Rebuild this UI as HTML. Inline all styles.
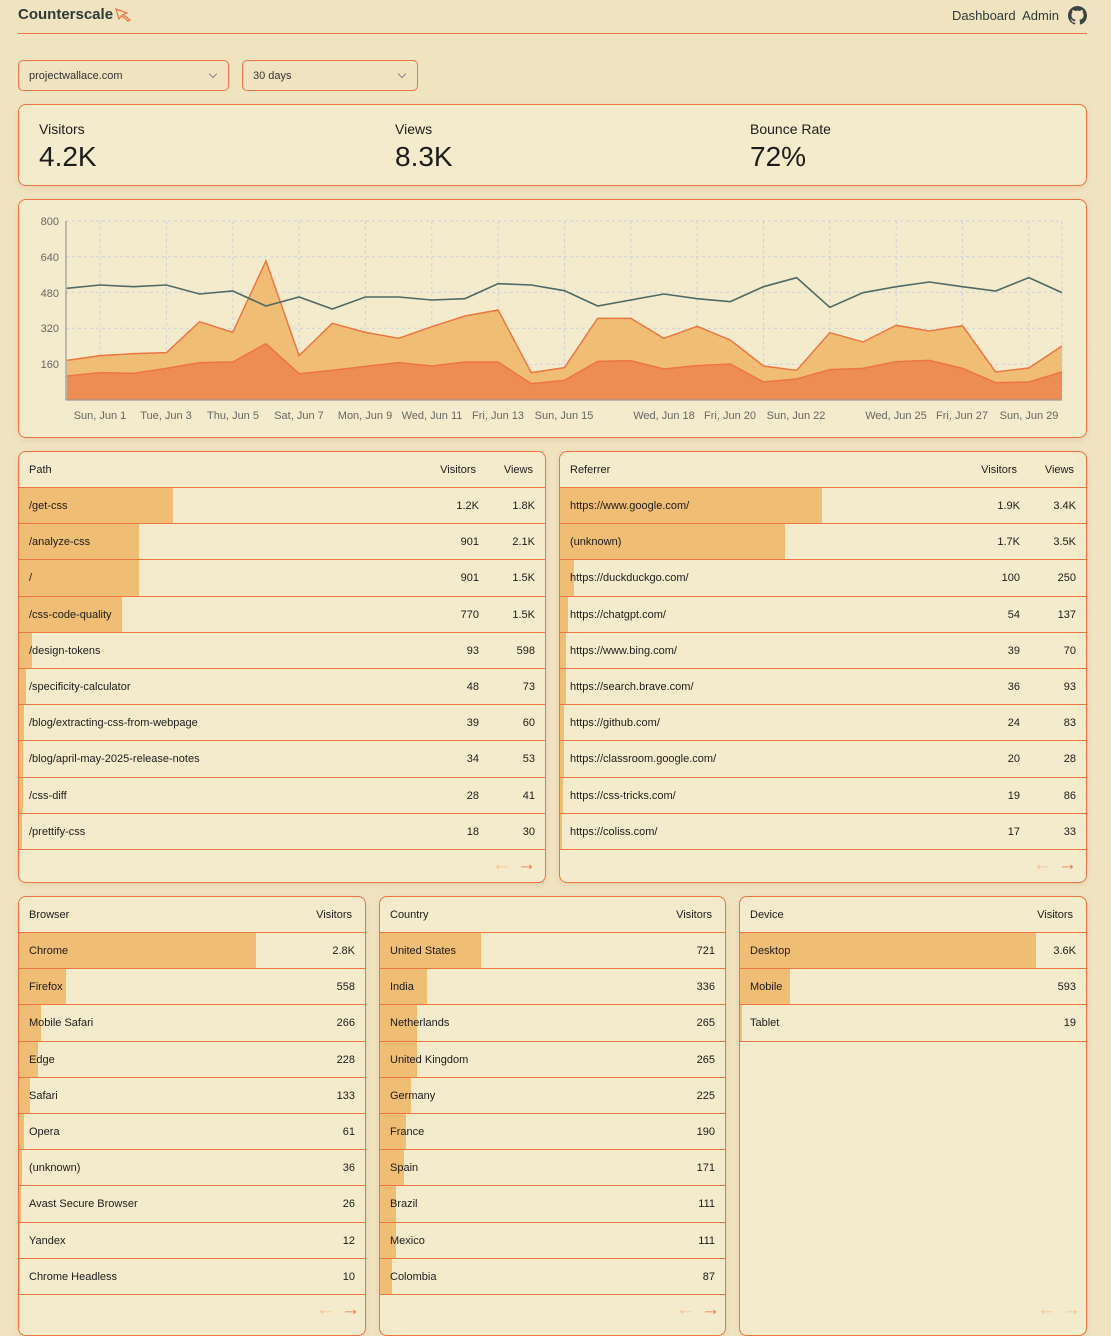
<!DOCTYPE html>
<html><head><meta charset="utf-8"><style>
*{box-sizing:border-box;margin:0;padding:0}
body{width:1111px;height:1325px;overflow:hidden;background:#f0e3c0;font-family:"Liberation Sans",Arial,sans-serif;color:#1c1c1c;position:relative}
.abs{position:absolute}
.card{position:absolute;background:#f4ebcc;border:1px solid #ed7542;border-radius:8px;box-shadow:0 2px 6px rgba(150,110,50,.15);overflow:hidden}
.sel{position:absolute;border:1px solid #ed7542;border-radius:5px;font-size:11px;color:#333;padding-left:10px;line-height:31px;top:60px;height:31px}
.sel:after{content:"";position:absolute;right:12px;top:10px;width:5px;height:5px;border-right:1px solid #888;border-bottom:1px solid #888;transform:rotate(45deg)}
.hd{position:absolute;left:0;right:0;top:0;height:36px;border-bottom:1px solid #ed7542;font-size:11px;line-height:36px}
.row{position:absolute;left:0;right:0;height:36.2px;border-bottom:1px solid #ed7542;font-size:11px;line-height:36px}
.bar{position:absolute;left:0;top:0;bottom:0;background:#f0bd74}
.t{position:absolute;left:10px}
.n{position:absolute;text-align:right}
.arr{position:absolute;font-size:19px;line-height:19px}
</style></head><body>
<div class="abs" style="left:18px;top:6px;font-size:15px;font-weight:bold;color:#2d3a3a">Counterscale</div>
<svg class="abs" style="left:115px;top:8px" width="20" height="14" viewBox="0 0 20 14"><path d="M1 1 L12 5 L8 6.5 L15 12 L13 13 L6.5 7.5 L4 11 Z" fill="none" stroke="#ed7542" stroke-width="1.2"/></svg>
<div class="abs" style="left:952px;top:8px;font-size:13px;color:#2d3a3a">Dashboard&nbsp; Admin</div>
<svg class="abs" style="left:1068px;top:6px" width="19" height="19" viewBox="0 0 16 16"><path fill="#3a4444" d="M8 0C3.580 0 0 3.58 0 8c0 3.54 2.29 6.53 5.47 7.59.4.07.55-.17.55-.38v-1.33c-2.23.48-2.7-1.070-2.7-1.07-.36-.92-.89-1.17-.89-1.17-.73-.5.06-.49.06-.49.8.06 1.23.83 1.23.83.71 1.22 1.870.87 2.33.66.07-.52.28-.87.51-1.07-1.78-.2-3.64-.89-3.64-3.95 0-.87.31-1.59.82-2.15-.08-.2-.36-1.02.08-2.12 0 0 .67-.21 2.2.82a7.6 7.6 0 0 1 4 0c1.53-1.04 2.2-.82 2.2-.82.44 1.1.16 1.92.08 2.12.51.56.82 1.27.82 2.15 0 3.07-1.87 3.75-3.65 3.95.29.25.54.73.54 1.48v2.2c0 .21.15.46.55.38A8.01 8.01 0 0 0 16 8c0-4.42-3.58-8-8-8z"/></svg>
<div class="abs" style="left:18px;top:33px;width:1069px;height:1px;background:#ed7542"></div>
<div class="sel" style="left:18px;width:211px">projectwallace.com</div>
<div class="sel" style="left:242px;width:176px">30 days</div>

<div class="card" style="left:18px;top:104px;width:1069px;height:82px">
<div class="abs" style="left:20px;top:16px;font-size:14px">Visitors</div><div class="abs" style="left:20px;top:36px;font-size:28px">4.2K</div>
<div class="abs" style="left:376px;top:16px;font-size:14px">Views</div><div class="abs" style="left:376px;top:36px;font-size:28px">8.3K</div>
<div class="abs" style="left:731px;top:16px;font-size:14px">Bounce Rate</div><div class="abs" style="left:731px;top:36px;font-size:28px">72%</div>
</div>
<div class="card" style="left:18px;top:199px;width:1069px;height:239px"></div>
<svg class="abs" style="left:0;top:0" width="1111" height="450">
<g stroke="#cfcfd8" stroke-dasharray="3,3" stroke-width="1">
<line x1="66" x2="1062" y1="221" y2="221"/><line x1="66" x2="1062" y1="256.7" y2="256.7"/><line x1="66" x2="1062" y1="292.3" y2="292.3"/><line x1="66" x2="1062" y1="328.3" y2="328.3"/><line x1="66" x2="1062" y1="364.3" y2="364.3"/>
<line x1="100.1" x2="100.1" y1="221" y2="400"/><line x1="166.4" x2="166.4" y1="221" y2="400"/><line x1="232.8" x2="232.8" y1="221" y2="400"/><line x1="299.1" x2="299.1" y1="221" y2="400"/><line x1="365.4" x2="365.4" y1="221" y2="400"/><line x1="431.8" x2="431.8" y1="221" y2="400"/><line x1="498.1" x2="498.1" y1="221" y2="400"/><line x1="564.5" x2="564.5" y1="221" y2="400"/><line x1="630.8" x2="630.8" y1="221" y2="400"/><line x1="697.1" x2="697.1" y1="221" y2="400"/><line x1="763.5" x2="763.5" y1="221" y2="400"/><line x1="829.8" x2="829.8" y1="221" y2="400"/><line x1="896.2" x2="896.2" y1="221" y2="400"/><line x1="962.5" x2="962.5" y1="221" y2="400"/><line x1="1028.8" x2="1028.8" y1="221" y2="400"/><line x1="1062" x2="1062" y1="221" y2="400"/>
</g>
<g transform="translate(66.9,200) scale(33.17,0.33333)">
<polygon fill="#f0bd74" points="0,600 0,481 1,467 2,461 3,458 4,365 5,397 6,183 7,467 8,370 9,397 10,415 11,380 12,348 13,330 14,518 15,503 16,355 17,355 18,415 19,379 20,420 21,498 22,511 23,398 24,426 25,376 26,393 27,377 28,516 29,504 30,438 30,600"/>
<polyline fill="none" stroke="#ed7542" stroke-width="1.5" vector-effect="non-scaling-stroke" points="0,481 1,467 2,461 3,458 4,365 5,397 6,183 7,467 8,370 9,397 10,415 11,380 12,348 13,330 14,518 15,503 16,355 17,355 18,415 19,379 20,420 21,498 22,511 23,398 24,426 25,376 26,393 27,377 28,516 29,504 30,438"/>
<polygon fill="#ee8d53" points="0,600 0,528 1,518 2,520 3,505 4,488 5,486 6,431 7,521 8,511 9,499 10,488 11,498 12,486 13,486 14,551 15,541 16,484 17,482 18,507 19,497 20,492 21,546 22,537 23,509 24,505 25,485 26,481 27,505 28,548 29,546 30,516 30,600"/>
<polyline fill="none" stroke="#ed7542" stroke-width="1.5" vector-effect="non-scaling-stroke" points="0,528 1,518 2,520 3,505 4,488 5,486 6,431 7,521 8,511 9,499 10,488 11,498 12,486 13,486 14,551 15,541 16,484 17,482 18,507 19,497 20,492 21,546 22,537 23,509 24,505 25,485 26,481 27,505 28,548 29,546 30,516"/>
<polyline fill="none" stroke="#4d6a66" stroke-width="1.6" vector-effect="non-scaling-stroke" points="0,265 1,255 2,260 3,255 4,282 5,273 6,318 7,291 8,327 9,291 10,291 11,300 12,296 13,251 14,255 15,272 16,318 17,300 18,282 19,296 20,305 21,260 22,233 23,322 24,278 25,260 26,246 27,260 28,273 29,233 30,278"/>
</g>
<line x1="66" x2="66" y1="221" y2="400" stroke="#999" stroke-width="1.2"/>
<line x1="66" x2="1062" y1="400" y2="400" stroke="#999" stroke-width="1.2"/>
<g font-family="Liberation Sans,Arial,sans-serif" font-size="11" fill="#666" text-anchor="end">
<text x="59" y="225">800</text><text x="59" y="261">640</text><text x="59" y="297">480</text><text x="59" y="332">320</text><text x="59" y="368">160</text>
</g>
<g font-family="Liberation Sans,Arial,sans-serif" font-size="11" fill="#666" text-anchor="middle">
<text x="100" y="419">Sun, Jun 1</text><text x="166" y="419">Tue, Jun 3</text><text x="233" y="419">Thu, Jun 5</text><text x="299" y="419">Sat, Jun 7</text><text x="365" y="419">Mon, Jun 9</text><text x="432" y="419">Wed, Jun 11</text><text x="498" y="419">Fri, Jun 13</text><text x="564" y="419">Sun, Jun 15</text><text x="664" y="419">Wed, Jun 18</text><text x="730" y="419">Fri, Jun 20</text><text x="796" y="419">Sun, Jun 22</text><text x="896" y="419">Wed, Jun 25</text><text x="962" y="419">Fri, Jun 27</text><text x="1029" y="419">Sun, Jun 29</text>
</g>
</svg>

<!-- Path -->
<div class="card" style="left:18px;top:451px;width:528px;height:432px">
<div class="hd"><span class="t">Path</span><span class="n" style="right:69px">Visitors</span><span class="n" style="right:12px">Views</span></div>
<div class="row" style="top:36px"><div class="bar" style="width:154px"></div><span class="t">/get-css</span><span class="n" style="right:66px">1.2K</span><span class="n" style="right:10px">1.8K</span></div>
<div class="row" style="top:72.2px"><div class="bar" style="width:120px"></div><span class="t">/analyze-css</span><span class="n" style="right:66px">901</span><span class="n" style="right:10px">2.1K</span></div>
<div class="row" style="top:108.4px"><div class="bar" style="width:120px"></div><span class="t">/</span><span class="n" style="right:66px">901</span><span class="n" style="right:10px">1.5K</span></div>
<div class="row" style="top:144.6px"><div class="bar" style="width:103px"></div><span class="t">/css-code-quality</span><span class="n" style="right:66px">770</span><span class="n" style="right:10px">1.5K</span></div>
<div class="row" style="top:180.8px"><div class="bar" style="width:13px"></div><span class="t">/design-tokens</span><span class="n" style="right:66px">93</span><span class="n" style="right:10px">598</span></div>
<div class="row" style="top:217px"><div class="bar" style="width:7px"></div><span class="t">/specificity-calculator</span><span class="n" style="right:66px">48</span><span class="n" style="right:10px">73</span></div>
<div class="row" style="top:253.2px"><div class="bar" style="width:5px"></div><span class="t">/blog/extracting-css-from-webpage</span><span class="n" style="right:66px">39</span><span class="n" style="right:10px">60</span></div>
<div class="row" style="top:289.4px"><div class="bar" style="width:4px"></div><span class="t">/blog/april-may-2025-release-notes</span><span class="n" style="right:66px">34</span><span class="n" style="right:10px">53</span></div>
<div class="row" style="top:325.6px"><div class="bar" style="width:4px"></div><span class="t">/css-diff</span><span class="n" style="right:66px">28</span><span class="n" style="right:10px">41</span></div>
<div class="row" style="top:361.8px"><div class="bar" style="width:3px"></div><span class="t">/prettify-css</span><span class="n" style="right:66px">18</span><span class="n" style="right:10px">30</span></div>
<span class="arr" style="right:34px;top:403px;color:#f6c08a">&#8592;</span><span class="arr" style="right:9px;top:403px;color:#ed7542">&#8594;</span>
</div>

<!-- Referrer -->
<div class="card" style="left:559px;top:451px;width:528px;height:432px">
<div class="hd"><span class="t">Referrer</span><span class="n" style="right:69px">Visitors</span><span class="n" style="right:12px">Views</span></div>
<div class="row" style="top:36px"><div class="bar" style="width:262px"></div><span class="t">https://www.google.com/</span><span class="n" style="right:66px">1.9K</span><span class="n" style="right:10px">3.4K</span></div>
<div class="row" style="top:72.2px"><div class="bar" style="width:225px"></div><span class="t">(unknown)</span><span class="n" style="right:66px">1.7K</span><span class="n" style="right:10px">3.5K</span></div>
<div class="row" style="top:108.4px"><div class="bar" style="width:14px"></div><span class="t">https://duckduckgo.com/</span><span class="n" style="right:66px">100</span><span class="n" style="right:10px">250</span></div>
<div class="row" style="top:144.6px"><div class="bar" style="width:8px"></div><span class="t">https://chatgpt.com/</span><span class="n" style="right:66px">54</span><span class="n" style="right:10px">137</span></div>
<div class="row" style="top:180.8px"><div class="bar" style="width:6px"></div><span class="t">https://www.bing.com/</span><span class="n" style="right:66px">39</span><span class="n" style="right:10px">70</span></div>
<div class="row" style="top:217px"><div class="bar" style="width:6px"></div><span class="t">https://search.brave.com/</span><span class="n" style="right:66px">36</span><span class="n" style="right:10px">93</span></div>
<div class="row" style="top:253.2px"><div class="bar" style="width:4px"></div><span class="t">https://github.com/</span><span class="n" style="right:66px">24</span><span class="n" style="right:10px">83</span></div>
<div class="row" style="top:289.4px"><div class="bar" style="width:4px"></div><span class="t">https://classroom.google.com/</span><span class="n" style="right:66px">20</span><span class="n" style="right:10px">28</span></div>
<div class="row" style="top:325.6px"><div class="bar" style="width:3px"></div><span class="t">https://css-tricks.com/</span><span class="n" style="right:66px">19</span><span class="n" style="right:10px">86</span></div>
<div class="row" style="top:361.8px"><div class="bar" style="width:2px"></div><span class="t">https://coliss.com/</span><span class="n" style="right:66px">17</span><span class="n" style="right:10px">33</span></div>
<span class="arr" style="right:34px;top:403px;color:#f6c08a">&#8592;</span><span class="arr" style="right:9px;top:403px;color:#ed7542">&#8594;</span>
</div>

<!-- Browser -->
<div class="card" style="left:18px;top:896px;width:348px;height:440px">
<div class="hd"><span class="t">Browser</span><span class="n" style="right:13px">Visitors</span></div>
<div class="row" style="top:36px"><div class="bar" style="width:237px"></div><span class="t">Chrome</span><span class="n" style="right:10px">2.8K</span></div>
<div class="row" style="top:72.2px"><div class="bar" style="width:47px"></div><span class="t">Firefox</span><span class="n" style="right:10px">558</span></div>
<div class="row" style="top:108.4px"><div class="bar" style="width:22px"></div><span class="t">Mobile Safari</span><span class="n" style="right:10px">266</span></div>
<div class="row" style="top:144.6px"><div class="bar" style="width:19px"></div><span class="t">Edge</span><span class="n" style="right:10px">228</span></div>
<div class="row" style="top:180.8px"><div class="bar" style="width:11px"></div><span class="t">Safari</span><span class="n" style="right:10px">133</span></div>
<div class="row" style="top:217px"><div class="bar" style="width:5px"></div><span class="t">Opera</span><span class="n" style="right:10px">61</span></div>
<div class="row" style="top:253.2px"><div class="bar" style="width:3px"></div><span class="t">(unknown)</span><span class="n" style="right:10px">36</span></div>
<div class="row" style="top:289.4px"><div class="bar" style="width:2px"></div><span class="t">Avast Secure Browser</span><span class="n" style="right:10px">26</span></div>
<div class="row" style="top:325.6px"><div class="bar" style="width:1px"></div><span class="t">Yandex</span><span class="n" style="right:10px">12</span></div>
<div class="row" style="top:361.8px"><div class="bar" style="width:1px"></div><span class="t">Chrome Headless</span><span class="n" style="right:10px">10</span></div>
<span class="arr" style="left:297px;top:403px;color:#f6c08a">&#8592;</span><span class="arr" style="left:322px;top:403px;color:#ed7542">&#8594;</span>
</div>

<!-- Country -->
<div class="card" style="left:379px;top:896px;width:347px;height:440px">
<div class="hd"><span class="t">Country</span><span class="n" style="right:13px">Visitors</span></div>
<div class="row" style="top:36px"><div class="bar" style="width:101px"></div><span class="t">United States</span><span class="n" style="right:10px">721</span></div>
<div class="row" style="top:72.2px"><div class="bar" style="width:47px"></div><span class="t">India</span><span class="n" style="right:10px">336</span></div>
<div class="row" style="top:108.4px"><div class="bar" style="width:37px"></div><span class="t">Netherlands</span><span class="n" style="right:10px">265</span></div>
<div class="row" style="top:144.6px"><div class="bar" style="width:37px"></div><span class="t">United Kingdom</span><span class="n" style="right:10px">265</span></div>
<div class="row" style="top:180.8px"><div class="bar" style="width:31px"></div><span class="t">Germany</span><span class="n" style="right:10px">225</span></div>
<div class="row" style="top:217px"><div class="bar" style="width:26px"></div><span class="t">France</span><span class="n" style="right:10px">190</span></div>
<div class="row" style="top:253.2px"><div class="bar" style="width:24px"></div><span class="t">Spain</span><span class="n" style="right:10px">171</span></div>
<div class="row" style="top:289.4px"><div class="bar" style="width:16px"></div><span class="t">Brazil</span><span class="n" style="right:10px">111</span></div>
<div class="row" style="top:325.6px"><div class="bar" style="width:16px"></div><span class="t">Mexico</span><span class="n" style="right:10px">111</span></div>
<div class="row" style="top:361.8px"><div class="bar" style="width:12px"></div><span class="t">Colombia</span><span class="n" style="right:10px">87</span></div>
<span class="arr" style="left:296px;top:403px;color:#f6c08a">&#8592;</span><span class="arr" style="left:321px;top:403px;color:#ed7542">&#8594;</span>
</div>

<!-- Device -->
<div class="card" style="left:739px;top:896px;width:348px;height:440px">
<div class="hd"><span class="t">Device</span><span class="n" style="right:13px">Visitors</span></div>
<div class="row" style="top:36px"><div class="bar" style="width:296px"></div><span class="t">Desktop</span><span class="n" style="right:10px">3.6K</span></div>
<div class="row" style="top:72.2px"><div class="bar" style="width:50px"></div><span class="t">Mobile</span><span class="n" style="right:10px">593</span></div>
<div class="row" style="top:108.4px"><div class="bar" style="width:2px"></div><span class="t">Tablet</span><span class="n" style="right:10px">19</span></div>
<span class="arr" style="left:297px;top:403px;color:#f6c08a">&#8592;</span><span class="arr" style="left:322px;top:403px;color:#f6c08a">&#8594;</span>
</div>
</body></html>
